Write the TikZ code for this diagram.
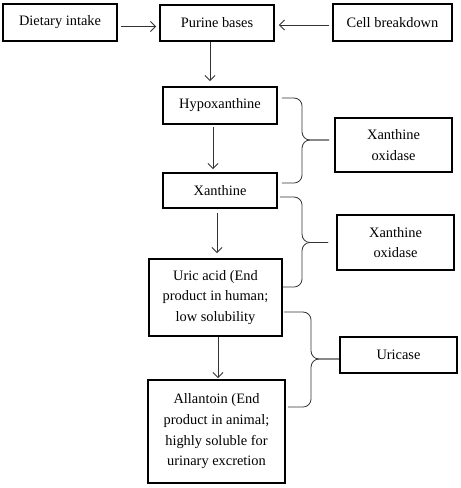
\documentclass[tikz,border=0pt]{standalone}
\usepackage{fontspec}
\setmainfont{Liberation Serif}
\usetikzlibrary{arrows.meta,calc}
\begin{document}
\begin{tikzpicture}[x=1pt,y=-1pt,
  box/.style={draw=black,line width=1.9pt,inner sep=0pt,align=center,
    font=\fontsize{14.4}{20.7}\selectfont},
  arr/.style={draw=black!80,line width=0.8pt,-{Straight Barb[length=5pt,width=10pt]}},
  brace/.style={draw=black!80,line width=0.8pt,rounded corners=8pt}]
\fill[white] (0,0) rectangle (461,488);
\useasboundingbox (0,0) rectangle (461,488);
\node[box,minimum width=114pt,minimum height=37pt] (diet) at (60,22.5) {Dietary intake};
\node[box,minimum width=114pt,minimum height=36pt] (purine) at (217,23) {Purine bases};
\node[box,minimum width=119pt,minimum height=37pt] (cell) at (392.5,22.5) {Cell breakdown};
\node[box,minimum width=114pt,minimum height=37pt] (hypo) at (220,105.5) {Hypoxanthine};
\node[box,minimum width=117pt,minimum height=54pt] (xo1) at (393.5,145) {Xanthine\\oxidase};
\node[box,minimum width=114pt,minimum height=35pt] (xan) at (220,190.5) {Xanthine};
\node[box,minimum width=117pt,minimum height=55pt] (xo2) at (395.5,242.5) {Xanthine\\oxidase};
\node[box,minimum width=133pt,minimum height=77pt] (uric) at (215.5,297.5) {Uric acid (End\\product in human;\\low solubility};
\node[box,minimum width=117pt,minimum height=36pt] (uricase) at (398.5,355) {Uricase};
\node[box,minimum width=137pt,minimum height=103pt] (allan) at (216.5,431.5) {Allantoin (End\\product in animal;\\highly soluble for\\urinary excretion};
% arrows
\draw[arr,shorten <=3pt,shorten >=3pt] ([yshift=-4pt]diet.east) -- ([yshift=-4pt]diet.east -| purine.west);
\draw[arr,shorten <=3pt,shorten >=4pt] ([yshift=-2.5pt]cell.west) -- ([yshift=-2.5pt]cell.west -| purine.east);
\draw[arr,shorten >=5pt] ([xshift=-7pt]purine.south) -- ([xshift=-7pt]purine.south |- hypo.north);
\draw[arr,shorten <=2pt,shorten >=3pt] ([xshift=-7pt]hypo.south) -- ([xshift=-7pt]hypo.south |- xan.north);
\draw[arr,shorten <=4pt,shorten >=5pt] ([xshift=-3pt]xan.south) -- ([xshift=-3pt]xan.south |- uric.north);
\draw[arr,shorten >=1pt] ([xshift=2.5pt]uric.south) -- ([xshift=2.5pt]uric.south |- allan.north);
% braces
\draw[brace] ([shift={(4,-7.5)}]hypo.east) -| ([shift={(-32,-5)}]xo1.west) -- ([shift={(-5,-5)}]xo1.west);
\draw[brace] ([shift={(-5,-5)}]xo1.west) -- ([shift={(-32,-5)}]xo1.west) |- ([shift={(4,-7.5)}]xan.east);
\draw[brace] ([shift={(2,6.5)}]xan.east) -| ([shift={(-34,0)}]xo2.west) -- ([shift={(-8,0)}]xo2.west);
\draw[brace] ([shift={(-8,0)}]xo2.west) -- ([shift={(-34,0)}]xo2.west) |- ([shift={(0,-10.5)}]uric.east);
\draw[brace] ([shift={(1,14.5)}]uric.east) -| ([shift={(-28,4)}]uricase.west) -- ([shift={(0,4)}]uricase.west);
\draw[brace] ([shift={(0,4)}]uricase.west) -- ([shift={(-28,4)}]uricase.west) |- ([shift={(2,-24.5)}]allan.east);
\end{tikzpicture}
\end{document}
